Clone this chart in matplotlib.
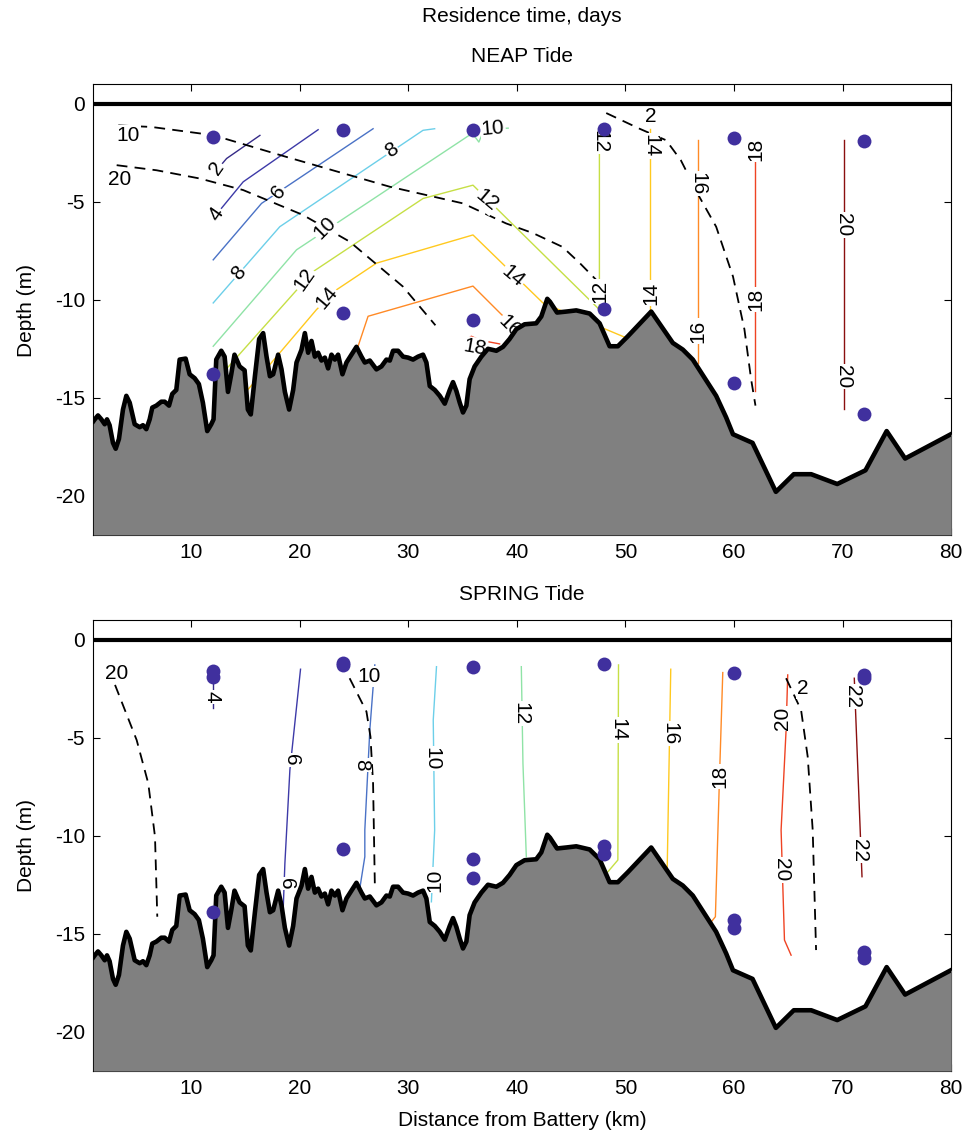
import matplotlib
matplotlib.use('Agg')
import matplotlib.pyplot as plt

plt.rcParams['font.family'] = ['Liberation Sans', 'DejaVu Sans']
plt.rcParams['axes.unicode_minus'] = False

# bathymetry along the channel (km, m)
bathy_x = [1.0, 1.13, 1.43, 1.74, 2.05, 2.26, 2.5, 2.81, 3.06, 3.36, 3.73, 4.04, 4.35, 4.81,
           5.27, 5.57, 5.88, 6.19, 6.43, 6.8, 7.26, 7.57, 7.97, 8.27, 8.64, 8.95, 9.5, 9.87,
           10.33, 10.72, 11.09, 11.49, 11.86, 12.07, 12.32, 12.78, 13.09, 13.4, 13.7, 14.0,
           14.47, 14.93, 15.23, 15.5, 15.88, 16.27, 16.64, 16.95, 17.26, 17.56, 18.02, 18.33,
           18.64, 19.03, 19.4, 19.71, 20.17, 20.48, 20.78, 21.09, 21.4, 21.7, 22.01, 22.32,
           22.62, 22.93, 23.24, 23.54, 23.94, 24.31, 24.77, 25.23, 25.69, 26.0, 26.46, 27.07,
           27.53, 27.99, 28.3, 28.6, 29.06, 29.52, 29.98, 30.44, 30.9, 31.36, 31.67, 31.98,
           32.44, 32.9, 33.36, 33.82, 34.12, 34.43, 34.74, 35.04, 35.35, 35.65, 36.11, 36.73,
           37.34, 38.11, 38.72, 39.33, 39.95, 40.71, 41.78, 42.25, 42.8, 43.05, 43.7, 44.55,
           45.47, 46.7, 47.62, 48.54, 49.3, 50.22, 52.37, 54.36, 55.28, 56.2, 58.35, 59.27,
           59.9, 61.7, 63.85, 65.5, 67.1, 69.5, 72.1, 74.05, 75.75, 80.0]
bathy_depth = [-16.2, -16.1, -15.9, -16.1, -16.35, -16.1, -16.4, -17.3, -17.6, -17.1, -15.6, -14.9,
               -15.25, -16.35, -16.5, -16.4, -16.6, -16.1, -15.5, -15.4, -15.2, -15.2, -15.4,
               -14.8, -14.6, -13.05, -13.0, -13.8, -14.0, -14.3, -15.25, -16.7, -16.35, -16.1,
               -13.05, -12.6, -12.9, -14.7, -13.8, -12.8, -13.4, -13.6, -15.6, -15.85, -13.9,
               -12.0, -11.7, -12.9, -13.9, -13.8, -12.8, -13.55, -14.7, -15.6, -14.6, -13.2,
               -12.55, -11.7, -12.7, -12.1, -12.9, -12.7, -13.1, -12.95, -13.5, -12.8, -13.05,
               -12.8, -13.8, -13.2, -12.8, -12.4, -12.9, -13.2, -13.1, -13.55, -13.4, -13.05,
               -13.1, -12.6, -12.6, -12.9, -12.95, -13.05, -12.9, -12.8, -13.2, -14.4, -14.6,
               -14.9, -15.3, -14.6, -14.2, -14.65, -15.25, -15.75, -15.4, -14.05, -13.4, -12.9,
               -12.5, -12.6, -12.4, -12.0, -11.5, -11.25, -11.2, -10.85, -9.95, -10.1, -10.65,
               -10.6, -10.54, -10.7, -11.2, -12.37, -12.37, -11.86, -10.6, -12.2, -12.54, -13.05,
               -14.9, -16.0, -16.86, -17.3, -19.8, -18.9, -18.9, -19.4, -18.7, -16.7, -18.1, -16.85]

# NEAP tide: residence time contours (level, x, depth)
neap_lines = [
    (2, [12.35, 13.27, 16.34], [-3.39, -2.79, -1.61]),
    (4, [12.04, 14.8, 21.7], [-5.84, -3.98, -1.32]),
    (6, [12.04, 16.49, 26.76], [-7.96, -5.08, -1.27]),
    (8, [12.04, 18.17, 31.36, 32.43], [-10.16, -6.27, -1.35, -1.27]),
    (10, [12.04, 19.71, 35.9, 36.5, 37.0, 39.2], [-12.37, -7.45, -1.5, -1.95, -1.3, -1.24]),
    (12, [13.3, 21.24, 31.36, 35.96, 47.6, 47.6], [-13.5, -8.56, -4.83, -4.15, -10.5, -1.3]),
    (14, [15.2, 17.26, 21.55, 23.39, 27.07, 35.96, 42.4, 50.07],
         [-14.6, -13.3, -10.5, -9.49, -8.13, -6.69, -10.16, -11.94]),
    (14, [52.3, 52.3], [-10.5, -1.3]),
    (16, [25.38, 26.3, 35.96, 38.6, 40.2], [-12.37, -10.84, -9.3, -10.76, -11.45]),
    (16, [56.66, 56.66], [-13.2, -1.86]),
    (18, [35.2, 35.81, 36.58, 38.41], [-12.06, -11.86, -12.06, -12.25]),
    (18, [61.97, 61.97], [-14.66, -1.86]),
    (20, [70.09, 70.09], [-15.59, -1.86]),
]
neap_dashed = [
    (10, [3.3, 6.37, 12.04, 18.79, 28.3, 35.04, 39.0, 41.5, 44.2, 45.8, 47.6],
         [-1.1, -1.18, -1.6, -2.71, -4.23, -5.08, -6.1, -6.6, -7.3, -8.13, -9.15]),
    (20, [3.15, 6.83, 10.8, 14.8, 20.3, 24.6, 29.5, 32.5],
         [-3.13, -3.39, -3.81, -4.4, -5.67, -7.03, -9.32, -11.3]),
    (2, [48.23, 51.3, 53.75, 55.1, 56.8, 58.35, 59.9, 60.95, 61.57, 61.97],
        [-0.47, -1.27, -1.86, -2.88, -4.74, -6.27, -8.81, -11.5, -14.06, -15.4]),
]
neap_labels = [
    ('10', 4.22, -1.6, 0), ('20', 3.46, -3.86, 0), ('2', 52.37, -0.67, 0),
    ('2', 12.4, -3.3, 55), ('4', 12.3, -5.6, 55), ('6', 18.02, -4.49, 50),
    ('8', 14.34, -8.64, 50), ('8', 28.45, -2.37, 35), ('10', 22.3, -6.35, 45),
    ('10', 37.8, -1.27, 5), ('12', 20.48, -8.98, 55), ('12', 37.19, -4.91, -40),
    ('14', 22.47, -9.91, 50), ('14', 39.64, -8.81, -40), ('16', 39.33, -11.35, -45),
    ('18', 36.1, -12.45, -10), ('12', 47.6, -1.9, -90), ('12', 47.6, -9.57, 90),
    ('14', 52.3, -2.15, -90), ('14', 52.3, -9.65, 90), ('16', 56.66, -4.06, -90),
    ('16', 56.66, -11.6, 90), ('18', 61.97, -2.3, 90), ('18', 61.97, -9.99, 90),
    ('20', 70.09, -6.18, -90), ('20', 70.09, -13.9, -90),
]
neap_dot_x = [12, 12, 24, 24, 36, 36, 48, 48, 60, 60, 72, 72]
neap_dot_y = [-1.69, -13.81, -1.32, -10.67, -1.35, -11.01, -1.27, -10.47, -1.74, -14.27, -1.91, -15.84]

# SPRING tide
spring_lines = [
    (4, [12.0, 12.0], [-1.5, -3.5]),
    (6, [20.08, 19.1, 18.64, 18.48], [-1.51, -6.65, -11.41, -13.8]),
    (8, [26.92, 26.46, 26.0, 26.0, 25.54], [-1.29, -4.61, -9.71, -11.07, -12.68]),
    (10, [32.6, 32.3, 32.43, 32.13], [-1.38, -4.1, -9.71, -13.37]),
    (12, [40.41, 40.56, 40.87], [-1.38, -6.31, -11.07]),
    (14, [49.36, 49.3, 48.38], [-1.29, -11.24, -11.84]),
    (16, [54.17, 53.84], [-1.51, -11.75]),
    (18, [58.96, 58.65, 58.28, 57.9], [-1.68, -7.16, -14.13, -14.39]),
    (20, [64.94, 64.79, 64.33, 64.64, 65.25], [-1.8, -4.61, -9.71, -15.32, -16.09]),
    (22, [71.07, 71.78], [-1.97, -12.09]),
]
spring_dashed = [
    (20, [3.0, 4.99, 6.06, 6.68, 6.89], [-2.31, -5.12, -7.33, -10.05, -14.13]),
    (10, [24.6, 26.15, 26.52, 26.76, 26.92], [-1.97, -3.67, -4.95, -7.33, -12.43]),
    (2, [64.79, 66.17, 66.78, 67.24, 67.55], [-1.97, -3.59, -5.97, -9.71, -15.83]),
]
spring_labels = [
    ('20', 3.15, -1.71, 0), ('10', 26.4, -1.89, 0), ('2', 66.3, -2.48, 0),
    ('4', 11.9, -2.91, -90), ('6', 19.25, -6.14, -90), ('6', 18.79, -12.43, -90),
    ('8', 25.69, -6.39, -90), ('10', 32.13, -6.05, -90), ('10', 32.43, -12.26, 90),
    ('12', 40.41, -3.76, -90), ('14', 49.3, -4.61, -90), ('16', 54.05, -4.78, -90),
    ('18', 58.65, -6.99, 90), ('20', 64.48, -4.01, 90), ('20', 64.33, -11.75, -90),
    ('22', 70.92, -2.91, -90), ('22', 71.53, -10.73, -90),
]
spring_dot_x = [12, 12, 12, 24, 24, 24, 36, 36, 36, 48, 48, 48, 60, 60, 60, 72, 72, 72, 72]
spring_dot_y = [-1.6, -1.9, -13.9, -1.2, -1.3, -10.7, -1.38, -11.2, -12.15, -1.26, -10.5, -10.95,
                -1.68, -14.3, -14.7, -1.8, -1.97, -15.95, -16.25]

# 10-step jet-like palette, lowest level first
line_colors = ['#352a87', '#3d3aa8', '#4a72c6', '#6ccfe9', '#8fe3a6',
               '#c6df45', '#ffc91f', '#ff8a26', '#ef4323', '#8a0f0f']

FS = 15


def draw_panel(ax, lines, dashed, labels, dot_x, dot_y, lowest):
    for lev, xs, ys in lines:
        ax.plot(xs, ys, color=line_colors[(lev - lowest) // 2], lw=1.0, zorder=2)
    for lev, xs, ys in dashed:
        ax.plot(xs, ys, color='k', lw=1.3, ls=(0, (6, 4)), zorder=2)
    for txt, x, y, rot in labels:
        ax.text(x, y, txt, rotation=rot, ha='center', va='center', fontsize=FS,
                rotation_mode='anchor', zorder=3,
                bbox=dict(boxstyle='square,pad=0.05', fc='white', ec='none'))
    ax.fill_between(bathy_x, bathy_depth, -22, color='#808080', lw=0, zorder=4)
    ax.plot(bathy_x, bathy_depth, color='k', lw=3.3, zorder=5)
    ax.axhline(0, color='k', lw=3, zorder=5)
    ax.plot(dot_x, dot_y, 'o', color='#40309e', ms=10, mec='none', zorder=6)

    ax.set_xlim(1, 80)
    ax.set_ylim(-22, 1)
    ax.set_xticks([10, 20, 30, 40, 50, 60, 70, 80])
    ax.set_yticks([-20, -15, -10, -5, 0])
    ax.tick_params(direction='in', top=True, right=True, length=5, width=0.8,
                   labelsize=FS, pad=6)
    for s in ax.spines.values():
        s.set_linewidth(0.8)


fig = plt.figure(figsize=(9.64, 11.37), dpi=100)
ax1 = fig.add_axes([0.0968, 0.5295, 0.8900, 0.3964])
ax2 = fig.add_axes([0.0968, 0.0580, 0.8900, 0.3967])

draw_panel(ax1, neap_lines, neap_dashed, neap_labels, neap_dot_x, neap_dot_y, 2)
draw_panel(ax2, spring_lines, spring_dashed, spring_labels, spring_dot_x, spring_dot_y, 4)

fig.text(522 / 964, 1 - 17 / 1137, 'Residence time, days', ha='center', va='center', fontsize=FS)
fig.text(522 / 964, 1 - 57 / 1137, 'NEAP Tide', ha='center', va='center', fontsize=FS)
fig.text(522 / 964, 1 - 594 / 1137, 'SPRING Tide', ha='center', va='center', fontsize=FS)
fig.text(522 / 964, 1 - 1120 / 1137, 'Distance from Battery (km)', ha='center', va='center', fontsize=FS)
fig.text(27 / 964, 1 - 310 / 1137, 'Depth (m)', rotation=90, ha='center', va='center', fontsize=FS)
fig.text(27 / 964, 1 - 845 / 1137, 'Depth (m)', rotation=90, ha='center', va='center', fontsize=FS)

fig.savefig('out.png', dpi=100)
